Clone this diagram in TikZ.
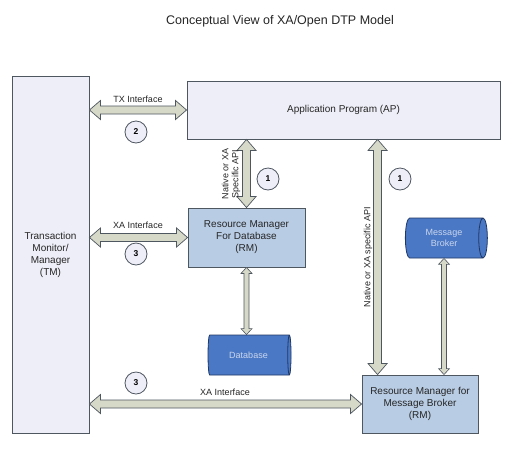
\documentclass[tikz,border=0pt]{standalone}
\usepackage{fontspec}
\setmainfont{Liberation Sans}
\usetikzlibrary{calc,positioning,shapes.geometric}

\definecolor{boxfill}{HTML}{EEEEF8}
\definecolor{rmfill}{HTML}{B8CCE4}
\definecolor{cylfill}{HTML}{4A78C4}
\definecolor{cyledge}{HTML}{203864}
\definecolor{cyltext}{HTML}{CAD6EE}
\definecolor{arrfill}{HTML}{D6D9C8}
\definecolor{edge}{HTML}{4E5660}

\tikzset{
  mainbox/.style={draw=edge, line width=0.9pt, fill=boxfill, inner sep=0pt,
    align=center, text=black!85, font=\fontsize{10}{12}\selectfont},
  rmbox/.style={mainbox, fill=rmfill},
  store/.style={cylinder, draw=cyledge, line width=0.8pt, fill=cylfill,
    shape aspect=0.5, inner sep=0pt, align=center, text=cyltext,
    font=\fontsize{9}{11}\selectfont},
  marker/.style={circle, draw=edge, line width=0.8pt, fill=boxfill,
    minimum size=22pt, inner sep=0pt, font=\bfseries\fontsize{8.5}{8.5}\selectfont},
  lbl/.style={align=center, text=black!85, font=\fontsize{9}{10}\selectfont},
  fatarrow/.style n args={3}{to path={
    -- ($(\tikztostart)!#1!(\tikztotarget)!#3!90:(\tikztotarget)$)
    -- ($(\tikztostart)!#1!(\tikztotarget)!#2!90:(\tikztotarget)$)
    -- ($(\tikztotarget)!#1!(\tikztostart)!#2!-90:(\tikztostart)$)
    -- ($(\tikztotarget)!#1!(\tikztostart)!#3!-90:(\tikztostart)$)
    -- (\tikztotarget)
    -- ($(\tikztotarget)!#1!(\tikztostart)!#3!90:(\tikztostart)$)
    -- ($(\tikztotarget)!#1!(\tikztostart)!#2!90:(\tikztostart)$)
    -- ($(\tikztostart)!#1!(\tikztotarget)!#2!-90:(\tikztotarget)$)
    -- ($(\tikztostart)!#1!(\tikztotarget)!#3!-90:(\tikztotarget)$)
    -- cycle}},
  fat/.style={fatarrow={11pt}{4pt}{9.5pt}, draw=edge, fill=arrfill, line width=0.7pt},
  slim/.style={fatarrow={6pt}{2.5pt}{5.5pt}, draw=edge, fill=arrfill, line width=0.6pt},
}

\begin{document}
\begin{tikzpicture}[x=1pt,y=-1pt]
  \useasboundingbox[fill=white] (0,0) rectangle (516,448);

  \node[font=\fontsize{12.5}{14}\selectfont, text=black!85] (title) at (280,21)
    {Conceptual View of XA/Open DTP Model};

  % boxes
  \node[mainbox, minimum width=77pt, minimum height=357pt] (tm) at (50.5,254.5)
    {Transaction\\Monitor/\\Manager\\(TM)};
  \node[mainbox, minimum width=313pt, minimum height=58pt] (ap) at (343.5,110)
    {Application Program (AP)};
  \node[rmbox, minimum width=117pt, minimum height=59pt] (rmdb) at (246.5,237.5)
    {Resource Manager\\For Database\\(RM)};
  \node[rmbox, minimum width=116pt, minimum height=58pt] (rmmb) at (420,404)
    {Resource Manager for\\Message Broker\\(RM)};
  \node[store, minimum width=40pt, minimum height=83pt] (db) at (248.5,355) {Database};
  \node[store, minimum width=40pt, minimum height=82pt] (mb) at (444,238) {Message\\Broker};

  % interfaces
  \coordinate (txs) at (tm.east |- ap.west);
  \coordinate (xas) at (tm.east |- rmdb.west);
  \coordinate (xbs) at (tm.east |- rmmb.west);
  \draw[fat] (txs) to (ap.west);
  \draw[fat] (xas) to (rmdb.west);
  \draw[fat] (xbs) to (rmmb.west);
  \draw[fat] (rmdb.north) to (ap.south -| rmdb.north);
  \coordinate (mbin) at ($(rmmb.north west)+(16,0)$);
  \draw[fat] (mbin) to (ap.south -| mbin);
  \draw[slim] (rmdb.south) to (rmdb.south |- db.north);
  \draw[slim] (mb.south) to (rmmb.north -| mb.south);

  % labels
  \node[lbl] (txl) at (138,99) {TX Interface};
  \node[lbl] (xal) at (138,225) {XA Interface};
  \node[lbl] (xbl) at (225,392) {XA Interface};
  \node[lbl, rotate=90] (apil) at (231,174) {Native or XA\\Specific API};
  \node[lbl, rotate=90] (apir) at (368,257) {Native or XA specific API};

  % numbered markers
  \node[marker] (m2) at (136,132) {2};
  \node[marker] (m3a) at (136,254) {3};
  \node[marker] (m3b) at (136,383) {3};
  \node[marker] (m1a) at (268,179) {1};
  \node[marker] (m1b) at (400,179) {1};
\end{tikzpicture}
\end{document}
